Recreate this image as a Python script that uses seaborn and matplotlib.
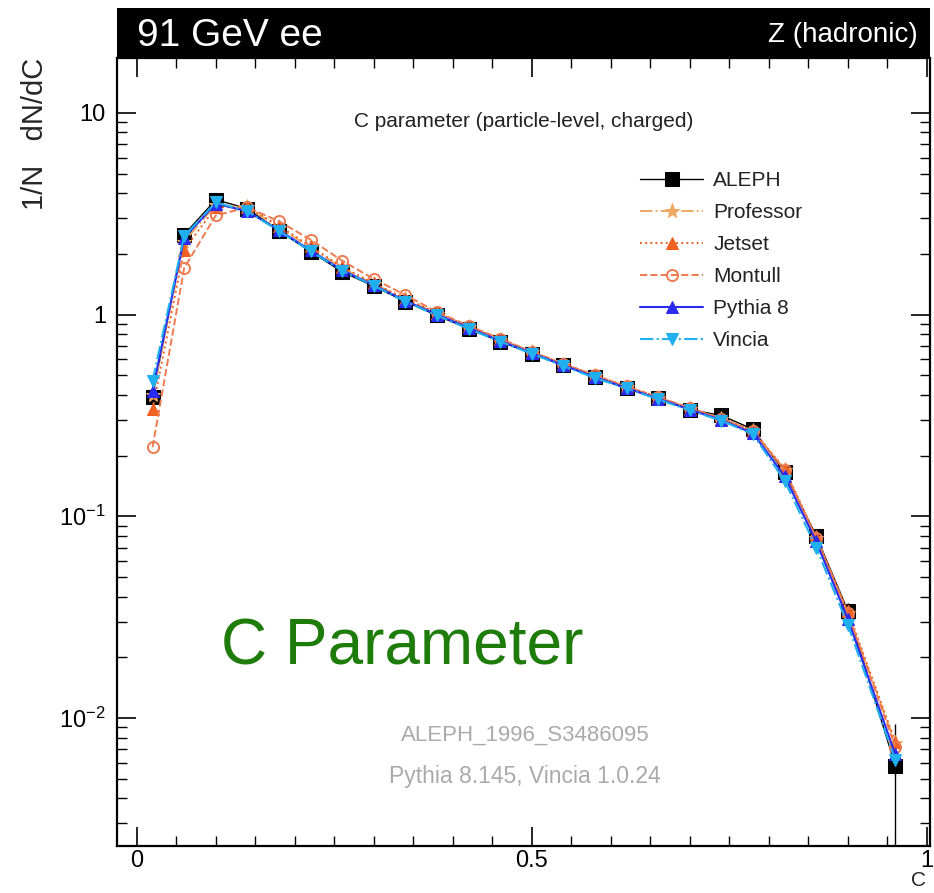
import numpy as np
import pandas as pd
import matplotlib
matplotlib.use("Agg")
import matplotlib.pyplot as plt
from matplotlib.ticker import FixedLocator, LogLocator, NullFormatter
import seaborn as sns

# ---------------- data ----------------
c_bins = [0.02, 0.06, 0.10, 0.14, 0.18, 0.22, 0.26, 0.30, 0.34, 0.38, 0.42, 0.46,
          0.50, 0.54, 0.58, 0.62, 0.66, 0.70, 0.74, 0.78, 0.82, 0.86, 0.90, 0.96]

aleph = [0.39, 2.49, 3.71, 3.35, 2.60, 2.05, 1.63, 1.38, 1.16, 0.99, 0.85, 0.735,
         0.64, 0.56, 0.49, 0.43, 0.385, 0.338, 0.316, 0.270, 0.165, 0.080, 0.034, 0.0058]
aleph_err = [0.03, 0.08, 0.10, 0.08, 0.06, 0.04, 0.03, 0.03, 0.02, 0.02, 0.02, 0.015,
             0.012, 0.01, 0.01, 0.01, 0.008, 0.008, 0.008, 0.008, 0.006, 0.004, 0.003, 0.0035]

professor = [0.40, 2.30, 3.50, 3.40, 2.70, 2.15, 1.70, 1.42, 1.19, 1.01, 0.87, 0.75,
             0.65, 0.565, 0.495, 0.435, 0.385, 0.34, 0.305, 0.265, 0.170, 0.078, 0.033, 0.0075]
jetset = [0.34, 2.10, 3.40, 3.42, 2.75, 2.18, 1.72, 1.43, 1.20, 1.02, 0.875, 0.755,
          0.655, 0.57, 0.50, 0.44, 0.39, 0.342, 0.305, 0.265, 0.172, 0.079, 0.034, 0.0076]
montull = [0.22, 1.70, 3.10, 3.40, 2.90, 2.35, 1.85, 1.50, 1.25, 1.03, 0.88, 0.76,
           0.655, 0.57, 0.50, 0.44, 0.39, 0.345, 0.305, 0.265, 0.170, 0.078, 0.033, 0.0072]
pythia8 = [0.42, 2.40, 3.55, 3.25, 2.62, 2.08, 1.66, 1.40, 1.17, 1.00, 0.86, 0.74,
           0.645, 0.56, 0.49, 0.432, 0.383, 0.338, 0.300, 0.258, 0.158, 0.075, 0.031, 0.0066]
vincia = [0.47, 2.45, 3.60, 3.25, 2.60, 2.06, 1.65, 1.39, 1.16, 0.99, 0.85, 0.735,
          0.64, 0.555, 0.485, 0.43, 0.38, 0.335, 0.298, 0.255, 0.150, 0.070, 0.029, 0.0062]

series_names = ["ALEPH", "Professor", "Jetset", "Montull", "Pythia 8", "Vincia"]
series_values = [aleph, professor, jetset, montull, pythia8, vincia]

x_ticks = [0, 0.5, 1]
x_tick_labels = ["0", "0.5", "1"]
y_decades = [1e-2, 1e-1, 1, 10]
y_tick_labels = ["$\\mathregular{10^{-2}}$", "$\\mathregular{10^{-1}}$", "1", "10"]

# ---------------- style ----------------
sns.set_style("ticks")
plt.rcParams["font.family"] = ["Liberation Sans", "DejaVu Sans"]
plt.rcParams["mathtext.fontset"] = "custom"
plt.rcParams["mathtext.rm"] = "Liberation Sans"

styles = {
    "ALEPH":     dict(color="black",   linestyle="-",  marker="s", markersize=10,
                      markerfacecolor="black", markeredgecolor="black", linewidth=1.0),
    "Professor": dict(color="#f0a860", linestyle="-.", marker="*", markersize=11,
                      markerfacecolor="#f0a860", markeredgecolor="#f0a860", linewidth=1.4),
    "Jetset":    dict(color="#f06020", linestyle=":",  marker="^", markersize=8,
                      markerfacecolor="#f06020", markeredgecolor="#f06020", linewidth=1.4),
    "Montull":   dict(color="#ee7a50", linestyle="--", marker="o", markersize=8,
                      markerfacecolor="none", markeredgecolor="#ee7a50", markeredgewidth=1.4,
                      linewidth=1.4),
    "Pythia 8":  dict(color="#2a2af0", linestyle="-",  marker="^", markersize=8,
                      markerfacecolor="#2a2af0", markeredgecolor="#2a2af0", linewidth=1.5),
    "Vincia":    dict(color="#20b0f0", linestyle="-.", marker="v", markersize=8,
                      markerfacecolor="#20b0f0", markeredgecolor="#20b0f0", linewidth=1.5),
}

W, H = 934, 893
fig = plt.figure(figsize=(W / 100, H / 100), dpi=100)

ax_l, ax_r, ax_t, ax_b = 117, 930, 58, 846
ax = fig.add_axes([ax_l / W, 1 - ax_b / H, (ax_r - ax_l) / W, (ax_b - ax_t) / H])


def axfrac(px, py):
    return (px - ax_l) / (ax_r - ax_l), 1 - (py - ax_t) / (ax_b - ax_t)


# error bars for data
ax.errorbar(c_bins, aleph, yerr=aleph_err, fmt="none", ecolor="black", elinewidth=1.0,
            capsize=0, zorder=3)

for name, vals in zip(series_names, series_values):
    df = pd.DataFrame({"C": c_bins, "val": vals})
    sns.lineplot(data=df, x="C", y="val", ax=ax, label=name,
                 zorder=4 if name == "ALEPH" else 5, **styles[name])

ax.set_yscale("log")
ax.set_xlim(-0.025, 1.004)
ax.set_ylim(0.00232, 18.7)

ax.xaxis.set_major_locator(FixedLocator(x_ticks))
ax.set_xticklabels(x_tick_labels)
ax.xaxis.set_minor_locator(FixedLocator(np.arange(0, 1.0001, 0.05)))
ax.yaxis.set_major_locator(FixedLocator(y_decades))
ax.set_yticklabels(y_tick_labels)
ax.yaxis.set_minor_locator(LogLocator(base=10, subs=np.arange(2, 10)))
ax.yaxis.set_minor_formatter(NullFormatter())

ax.tick_params(which="both", direction="in", top=True, right=True, colors="black",
               labelsize=17)
ax.tick_params(which="major", length=14, width=1.2)
ax.tick_params(axis="x", which="major", pad=3)
ax.tick_params(axis="y", which="major", pad=8)
ax.tick_params(which="minor", length=7, width=1.0)
for s in ax.spines.values():
    s.set_linewidth(1.6)
    s.set_color("black")

ax.set_xlabel("")
ax.set_ylabel("")

# legend
leg = ax.legend(loc="upper left", bbox_to_anchor=axfrac(632, 163),
                frameon=False, fontsize=15, handlelength=3.0, labelspacing=0.62,
                handletextpad=0.5, borderaxespad=0)
for t in leg.get_texts():
    t.set_color("#222222")

# axis titles
fig.text(35 / W, 1 - 58 / H, "1/N   dN/dC", rotation=90, ha="center", va="top", fontsize=21)
fig.text(919 / W, 1 - 880 / H, "C", ha="center", va="center", fontsize=15)

# in-plot texts
ax.text(*axfrac(524, 122), "C parameter (particle-level, charged)",
        transform=ax.transAxes, ha="center", va="center", fontsize=15, color="#222222")
ax.text(*axfrac(402, 648), "C Parameter",
        transform=ax.transAxes, ha="center", va="center", fontsize=46, color="#1e7d0a")
ax.text(*axfrac(525, 735), "ALEPH_1996_S3486095",
        transform=ax.transAxes, ha="center", va="center", fontsize=16, color="#aaaaaa")
ax.text(*axfrac(525, 776), "Pythia 8.145, Vincia 1.0.24",
        transform=ax.transAxes, ha="center", va="center", fontsize=16.5, color="#aaaaaa")

# header bar
hdr_t, hdr_b = 8, 58
hax = fig.add_axes([ax_l / W, 1 - hdr_b / H, (ax_r - ax_l) / W, (hdr_b - hdr_t) / H])
hax.set_facecolor("black")
hax.set_xticks([])
hax.set_yticks([])
for s in hax.spines.values():
    s.set_visible(False)
hax.text(0.025, 0.45, "91 GeV ee", color="white", fontsize=28, ha="left", va="center",
         transform=hax.transAxes)
hax.text(0.985, 0.45, "Z (hadronic)", color="white", fontsize=20, ha="right", va="center",
         transform=hax.transAxes)

fig.savefig("out.png", dpi=100, facecolor="white")
